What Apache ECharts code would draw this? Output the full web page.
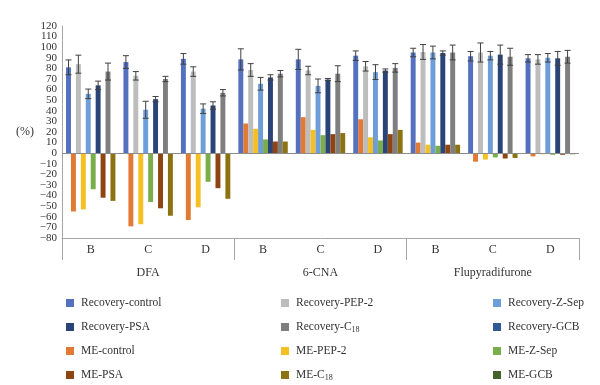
<!DOCTYPE html>
<html>
<head>
<meta charset="utf-8">
<script src="https://cdn.jsdelivr.net/npm/echarts@6/dist/echarts.min.js"></script>
<style>html,body{margin:0;padding:0;background:#fff;}#c{width:600px;height:385px;}</style>
</head>
<body>
<div id="c"></div>
<script>
var categories = ['B','C','D','B','C','D','B','C','D'];
var groups = ['DFA','6-CNA','Flupyradifurone'];
var yTicks = {min:-80, max:120, interval:10};
var yTickLabelsA = [-80,-60,-50,-40,-30,-20,-10,0,10,20,30,40,50,60,70,80,90,100,120];
var yTickLabelsB = [-70, 110];

var recControl = [81, 86, 89, 88.5, 88.5, 92, 95, 91.5, 89.5];
var recPEP2    = [84, 73, 77, 78.5, 78, 82, 95.5, 95, 88.5];
var recZSep    = [56, 41, 42, 65.5, 63.5, 76.5, 95, 92, 90];
var recPSA     = [64, 51, 45, 71.5, 69.5, 78, 94.5, 93, 89.5];
var recC18     = [77, 70, 57, 75, 75, 80.5, 95, 91, 91];

var errControl = [7, 6, 5, 10, 9.5, 4.5, 4, 4.5, 3.5];
var errPEP2    = [8.5, 4, 4.5, 6, 4, 4.5, 7, 9, 4.5];
var errZSep    = [4.5, 8, 4.5, 6, 6.5, 7, 6, 4, 4];
var errPSA     = [4, 2.5, 3.5, 2.5, 1, 1.5, 2, 9, 6.5];
var errC18     = [8, 2.5, 3, 3, 7.5, 4, 7, 8, 6];

var meControl = [-55, -69, -63, 28, 34, 32, 10, -8, -3];
var mePEP2    = [-53, -67, -51, 23, 22, 15, 8, -6, -1];
var meZSep    = [-34, -46, -27, 13, 17, 12, 7, -4, -1.5];
var mePSA     = [-42, -52, -33, 11, 18, 18, 8, -5, -1.5];
var meC18     = [-45, -59, -43, 11, 19, 22, 8, -4.5, -1];

var FONT = 'Liberation Serif';
var GAP = 0.14;
var NSLOT = 10;

var barDefs = [
  {name:'Recovery-control', data:recControl, err:errControl, color:'#5470BE'},
  {name:'ME-control',       data:meControl,  color:'#E07A35'},
  {name:'Recovery-PEP-2',   data:recPEP2,    err:errPEP2,    color:'#BDBDBD'},
  {name:'ME-PEP-2',         data:mePEP2,     color:'#F5C023'},
  {name:'Recovery-Z-Sep',   data:recZSep,    err:errZSep,    color:'#6E9DD8'},
  {name:'ME-Z-Sep',         data:meZSep,     color:'#7AAE4B'},
  {name:'Recovery-PSA',     data:recPSA,     err:errPSA,     color:'#2B4478'},
  {name:'ME-PSA',           data:mePSA,      color:'#8E4512'},
  {name:'Recovery-C18',     data:recC18,     err:errC18,     color:'#7F7F7F'},
  {name:'ME-C18',           data:meC18,      color:'#8C7311'}
];

var series = [];
barDefs.forEach(function(d, i){
  var s = {
    name: d.name, type:'bar', xAxisIndex:0, yAxisIndex:0,
    data: d.data, barGap:'0%', barCategoryGap:(GAP*100)+'%',
    itemStyle:{color:d.color}, silent:true
  };
  if (i === 0) {
    s.markLine = {silent:true, symbol:['none','none'], label:{show:false},
      lineStyle:{color:'#8C8C8C', type:'solid', width:1}, data:[{yAxis:0}]};
  }
  series.push(s);
});
// GCB series: listed in legend, no bars drawn
series.push({name:'Recovery-GCB', type:'bar', xAxisIndex:1, yAxisIndex:1, data:[], itemStyle:{color:'#2F5A95'}});
series.push({name:'ME-GCB', type:'bar', xAxisIndex:1, yAxisIndex:1, data:[], itemStyle:{color:'#44632A'}});

// error bars
barDefs.forEach(function(d, slot){
  if (!d.err) return;
  var pts = d.data.map(function(v, k){ return [k, v, d.err[k]]; });
  series.push({
    type:'custom', xAxisIndex:0, yAxisIndex:0, silent:true, z:5,
    data: pts, encode:{x:0, y:1},
    renderItem: function(params, api){
      var c = api.value(0), v = api.value(1), e = api.value(2);
      var p = api.coord([c, v]);
      var band = api.size([1, 0])[0];
      var used = band * (1 - GAP);
      var bw = used / NSLOT;
      var x = p[0] - used / 2 + (slot + 0.5) * bw;
      var yt = api.coord([c, v + e])[1];
      var yb = api.coord([c, v - e])[1];
      var cw = 3;
      var st = {stroke:'#404040', lineWidth:1};
      return {type:'group', children:[
        {type:'line', shape:{x1:x, y1:yt, x2:x, y2:yb}, style:st},
        {type:'line', shape:{x1:x-cw, y1:yt, x2:x+cw, y2:yt}, style:st},
        {type:'line', shape:{x1:x-cw, y1:yb, x2:x+cw, y2:yb}, style:st}
      ]};
    }
  });
});

function fmtName(n){ return n.replace('C18', 'C{s|18}'); }
function legendCol(left, names){
  return {
    orient:'vertical', left:left, top:296, padding:0, itemWidth:8, itemHeight:8, itemGap:10,
    icon:'rect', data:names, selectedMode:false,
    formatter: fmtName,
    textStyle:{fontFamily:FONT, fontSize:11.5, color:'#333', lineHeight:14, padding:[0,0,0,2],
      rich:{s:{fontFamily:FONT, fontSize:8, lineHeight:6, verticalAlign:'bottom', color:'#333'}}}
  };
}
function yFmt(v){ return v < 0 ? '\u2212' + Math.abs(v) : String(v); }

var option = {
  animation:false,
  grid:[
    {left:62, right:21, top:26, bottom:147},
    {left:62, right:21, top:26, bottom:147}
  ],
  xAxis:[
    {gridIndex:0, type:'category', data:categories, boundaryGap:true,
     axisLine:{show:true, onZero:false, lineStyle:{color:'#A6A6A6'}},
     axisTick:{show:false},
     axisLabel:{margin:6, fontFamily:FONT, fontSize:12, color:'#333'}},
    {gridIndex:1, type:'category', data:groups, boundaryGap:true, position:'bottom',
     axisLine:{show:false, onZero:false},
     axisTick:{show:true, length:22, lineStyle:{color:'#A6A6A6'}},
     axisLabel:{margin:29, fontFamily:FONT, fontSize:12, color:'#333'}}
  ],
  yAxis:[
    {gridIndex:0, type:'value', min:yTicks.min, max:yTicks.max, interval:yTicks.interval,
     name:'(%)', nameLocation:'middle', nameRotate:0, nameGap:26,
     nameTextStyle:{fontFamily:FONT, fontSize:12, color:'#333'},
     axisLine:{show:true, lineStyle:{color:'#A6A6A6'}},
     axisTick:{show:false}, splitLine:{show:false},
     axisLabel:{margin:5, fontFamily:FONT, fontSize:11, color:'#333',
       customValues: yTickLabelsA, showMinLabel:true, showMaxLabel:true, hideOverlap:false,
       formatter:yFmt}},
    {gridIndex:1, type:'value', min:yTicks.min, max:yTicks.max, interval:yTicks.interval, show:true,
     axisLine:{show:false}, axisTick:{show:false}, splitLine:{show:false},
     axisLabel:{margin:5, fontFamily:FONT, fontSize:11, color:'#333',
       customValues: yTickLabelsB, showMinLabel:true, showMaxLabel:true, formatter:yFmt}}
  ],
  legend:[
    legendCol(66, ['Recovery-control','Recovery-PSA','ME-control','ME-PSA']),
    legendCol(281, ['Recovery-PEP-2','Recovery-C18','ME-PEP-2','ME-C18']),
    legendCol(493, ['Recovery-Z-Sep','Recovery-GCB','ME-Z-Sep','ME-GCB'])
  ],
  series: series
};
var chart = echarts.init(document.getElementById('c'), null, {renderer:'canvas'});
chart.setOption(option);
</script>
</body>
</html>
